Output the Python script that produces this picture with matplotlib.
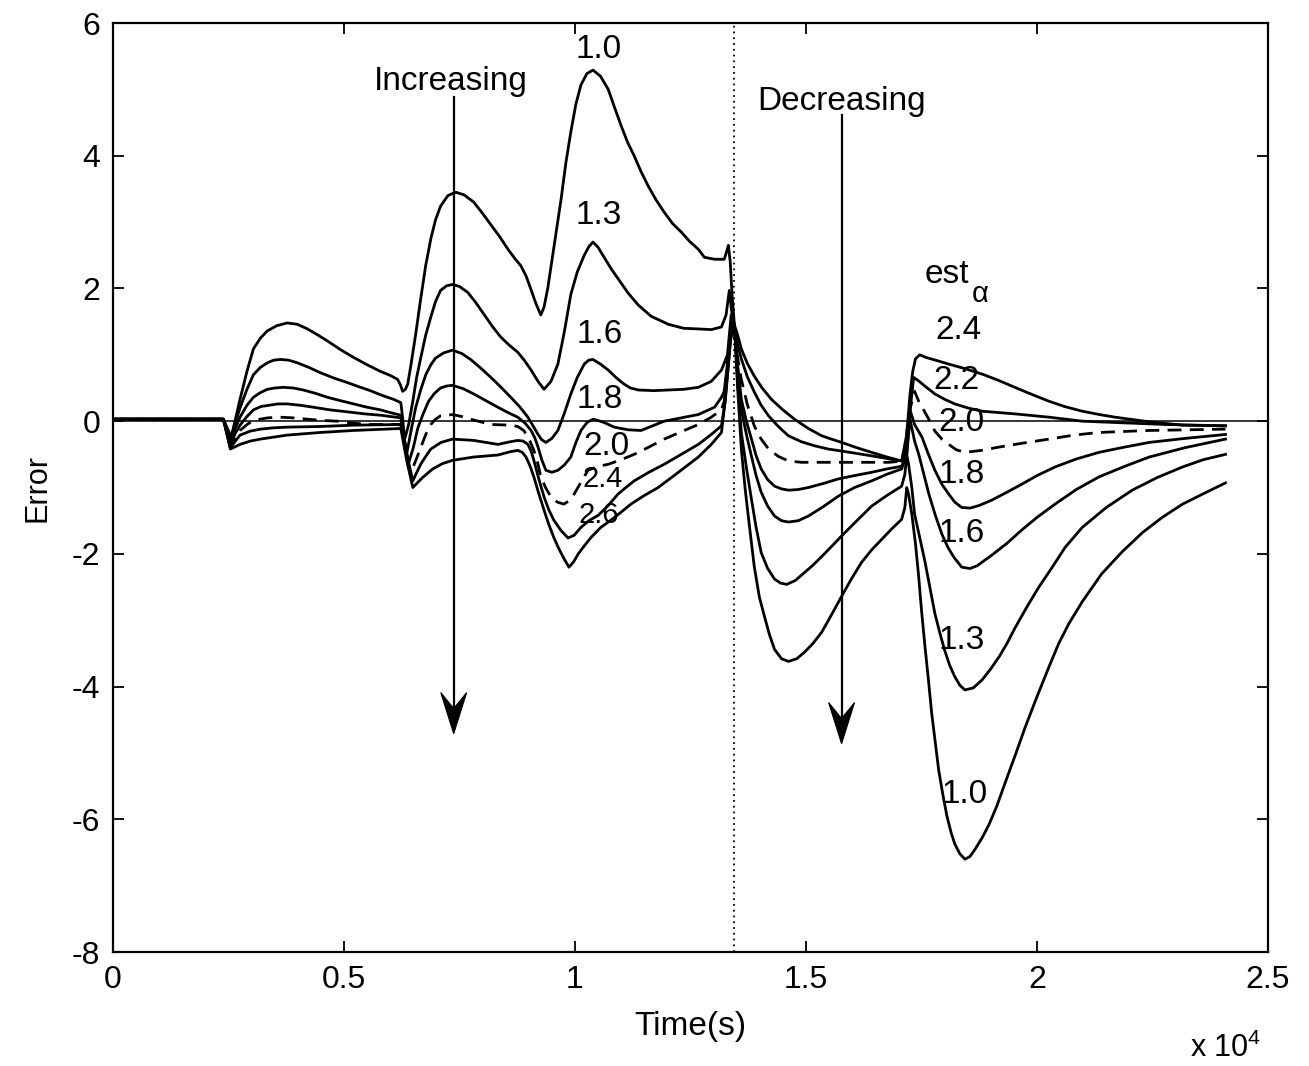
import matplotlib
matplotlib.use("Agg")
import matplotlib.pyplot as plt
from matplotlib.patches import Polygon
from matplotlib.ticker import FuncFormatter

plt.rcParams['font.family'] = ['Liberation Sans', 'DejaVu Sans']
plt.rcParams['mathtext.fontset'] = 'custom'
plt.rcParams['mathtext.rm'] = 'Liberation Sans'
plt.rcParams['axes.unicode_minus'] = False

# time in units of 1e4 s, error values for each est_alpha
t_10 = [0, 0.239, 0.256, 0.275, 0.290, 0.304, 0.319, 0.334, 0.355, 0.377, 0.399, 0.421, 0.443,
        0.464, 0.492, 0.521, 0.550, 0.579, 0.600, 0.616, 0.622, 0.627, 0.633, 0.638, 0.645, 0.655,
        0.666, 0.677, 0.688, 0.698, 0.709, 0.725, 0.742, 0.760, 0.781, 0.800, 0.818, 0.837, 0.855,
        0.870, 0.883, 0.894, 0.905, 0.915, 0.926, 0.933, 0.941, 0.955, 0.970, 0.980, 0.991, 1.002,
        1.013, 1.026, 1.039, 1.055, 1.072, 1.086, 1.100, 1.114, 1.128, 1.143, 1.158, 1.175, 1.193,
        1.211, 1.230, 1.248, 1.267, 1.280, 1.302, 1.323, 1.328, 1.332, 1.336, 1.340, 1.345, 1.352,
        1.360, 1.368, 1.375, 1.388, 1.399, 1.410, 1.421, 1.432, 1.447, 1.462, 1.480, 1.497, 1.515,
        1.534, 1.555, 1.577, 1.598, 1.620, 1.642, 1.664, 1.686, 1.707, 1.714, 1.718, 1.722, 1.729,
        1.737, 1.744, 1.750, 1.757, 1.765, 1.772, 1.780, 1.787, 1.796, 1.805, 1.814, 1.822, 1.833,
        1.844, 1.855, 1.866, 1.881, 1.896, 1.913, 1.931, 1.952, 1.974, 2.000, 2.026, 2.047, 2.069,
        2.098, 2.140, 2.184, 2.228, 2.271, 2.315, 2.358, 2.408]
e_10 = [0.03, 0.03, -0.24, 0.33, 0.75, 1.09, 1.25, 1.36, 1.44, 1.48, 1.46, 1.39, 1.30,
        1.21, 1.08, 0.96, 0.85, 0.75, 0.69, 0.63, 0.55, 0.45, 0.48, 0.56, 0.85, 1.3,
        1.84, 2.35, 2.75, 3.03, 3.24, 3.40, 3.45, 3.41, 3.30, 3.13, 2.96, 2.78, 2.59,
        2.45, 2.34, 2.19, 1.98, 1.78, 1.6, 1.72, 2.0, 2.65, 3.35, 3.88, 4.36, 4.78,
        5.07, 5.24, 5.29, 5.2, 5.0, 4.72, 4.45, 4.2, 4.0, 3.76, 3.55, 3.34, 3.15,
        2.98, 2.85, 2.71, 2.59, 2.47, 2.44, 2.44, 2.55, 2.65, 2.4, 1.9, 1.45, 0.5,
        -0.42, -1.0, -1.43, -2.19, -2.65, -2.94, -3.22, -3.44, -3.58, -3.62, -3.58, -3.48, -3.35,
        -3.18, -2.92, -2.64, -2.38, -2.13, -1.94, -1.78, -1.62, -1.48, -1.3, -1.0, -1.1, -1.4,
        -1.85, -2.35, -2.85, -3.36, -3.9, -4.4, -4.85, -5.25, -5.62, -5.95, -6.2, -6.37, -6.52,
        -6.6, -6.56, -6.45, -6.28, -6.08, -5.8, -5.45, -5.05, -4.62, -4.15, -3.7, -3.35, -3.05,
        -2.72, -2.3, -1.97, -1.68, -1.45, -1.25, -1.1, -0.93]

t_13 = [0, 0.239, 0.254, 0.265, 0.275, 0.290, 0.304, 0.319, 0.334, 0.348, 0.362, 0.380, 0.399,
        0.424, 0.449, 0.478, 0.508, 0.532, 0.557, 0.582, 0.607, 0.623, 0.627, 0.631, 0.640, 0.649,
        0.657, 0.666, 0.677, 0.688, 0.698, 0.709, 0.722, 0.735, 0.750, 0.768, 0.785, 0.803, 0.821,
        0.839, 0.857, 0.876, 0.890, 0.905, 0.920, 0.933, 0.948, 0.963, 0.977, 0.991, 1.005, 1.020,
        1.030, 1.039, 1.050, 1.063, 1.078, 1.093, 1.115, 1.137, 1.165, 1.202, 1.235, 1.267, 1.295,
        1.317, 1.327, 1.334, 1.340, 1.345, 1.352, 1.360, 1.371, 1.382, 1.392, 1.403, 1.417, 1.432,
        1.445, 1.458, 1.477, 1.497, 1.515, 1.534, 1.555, 1.577, 1.610, 1.642, 1.675, 1.707, 1.714,
        1.718, 1.722, 1.729, 1.735, 1.746, 1.757, 1.768, 1.779, 1.790, 1.800, 1.811, 1.822, 1.833,
        1.844, 1.862, 1.881, 1.900, 1.918, 1.935, 1.952, 1.978, 2.004, 2.033, 2.061, 2.098, 2.150,
        2.206, 2.260, 2.315, 2.360, 2.408]
e_13 = [0.03, 0.03, -0.28, -0.02, 0.2, 0.48, 0.7, 0.81, 0.88, 0.92, 0.93, 0.92, 0.88,
        0.81, 0.73, 0.65, 0.58, 0.52, 0.46, 0.39, 0.33, 0.28, 0.05, -0.28, -0.05, 0.3,
        0.65, 0.95, 1.3, 1.57, 1.80, 1.97, 2.04, 2.06, 2.03, 1.94, 1.79, 1.61, 1.43,
        1.27, 1.15, 1.04, 0.92, 0.77, 0.6, 0.48, 0.6, 0.86, 1.35, 1.91, 2.25, 2.5,
        2.63, 2.7, 2.62, 2.47, 2.3, 2.15, 1.93, 1.75, 1.58, 1.46, 1.40, 1.39, 1.38,
        1.42, 1.6, 1.97, 1.6, 1.45, 0.6, -0.17, -0.7, -1.18, -1.6, -1.98, -2.22, -2.38,
        -2.44, -2.46, -2.4, -2.28, -2.17, -2.04, -1.89, -1.73, -1.5, -1.28, -1.12, -0.98, -0.8,
        -0.5, -0.65, -1.0, -1.4, -1.75, -2.1, -2.5, -2.9, -3.2, -3.45, -3.68, -3.85, -3.98,
        -4.05, -4.02, -3.9, -3.73, -3.55, -3.35, -3.12, -2.8, -2.5, -2.2, -1.9, -1.6, -1.3,
        -1.04, -0.85, -0.69, -0.58, -0.5]

t_16 = [0, 0.239, 0.254, 0.265, 0.275, 0.290, 0.304, 0.319, 0.334, 0.350, 0.369, 0.390, 0.412,
        0.438, 0.464, 0.492, 0.521, 0.550, 0.579, 0.600, 0.623, 0.629, 0.636, 0.645, 0.655, 0.666,
        0.677, 0.688, 0.698, 0.716, 0.735, 0.755, 0.774, 0.796, 0.818, 0.840, 0.861, 0.880, 0.898,
        0.910, 0.920, 0.928, 0.937, 0.950, 0.963, 0.977, 0.991, 1.005, 1.020, 1.030, 1.039, 1.055,
        1.072, 1.090, 1.106, 1.120, 1.137, 1.170, 1.202, 1.235, 1.267, 1.295, 1.317, 1.330, 1.338,
        1.345, 1.352, 1.360, 1.371, 1.382, 1.392, 1.403, 1.417, 1.432, 1.447, 1.462, 1.483, 1.505,
        1.537, 1.570, 1.605, 1.642, 1.675, 1.707, 1.718, 1.725, 1.735, 1.744, 1.755, 1.766, 1.780,
        1.794, 1.807, 1.820, 1.837, 1.855, 1.870, 1.902, 1.935, 1.967, 2.000, 2.039, 2.085, 2.134,
        2.190, 2.243, 2.320, 2.408]
e_16 = [0.03, 0.03, -0.32, -0.1, 0.06, 0.24, 0.36, 0.43, 0.48, 0.50, 0.51, 0.50, 0.47,
        0.42, 0.36, 0.31, 0.26, 0.21, 0.17, 0.13, 0.09, -0.2, -0.48, -0.15, 0.2, 0.47,
        0.7, 0.85, 0.95, 1.03, 1.07, 1.02, 0.93, 0.80, 0.66, 0.51, 0.36, 0.22, 0.06,
        -0.08, -0.2, -0.28, -0.32, -0.26, -0.14, 0.12, 0.41, 0.66, 0.86, 0.92, 0.93, 0.86,
        0.77, 0.65, 0.56, 0.50, 0.47, 0.46, 0.47, 0.48, 0.51, 0.6, 0.77, 1.0, 1.6,
        1.45, 0.8, 0.18, -0.2, -0.53, -0.82, -1.07, -1.28, -1.43, -1.5, -1.52, -1.5, -1.43,
        -1.29, -1.13, -1.0, -0.9, -0.8, -0.72, -0.5, 0.03, -0.3, -0.5, -0.8, -1.1, -1.42,
        -1.7, -1.9, -2.05, -2.2, -2.22, -2.18, -2.02, -1.84, -1.64, -1.45, -1.25, -1.03, -0.84,
        -0.68, -0.54, -0.4, -0.27]

t_18 = [0, 0.239, 0.254, 0.265, 0.275, 0.290, 0.304, 0.320, 0.338, 0.357, 0.377, 0.405, 0.434,
        0.470, 0.508, 0.545, 0.579, 0.623, 0.631, 0.640, 0.650, 0.660, 0.672, 0.683, 0.696, 0.709,
        0.722, 0.735, 0.758, 0.781, 0.807, 0.833, 0.855, 0.876, 0.892, 0.905, 0.913, 0.920, 0.928,
        0.937, 0.950, 0.963, 0.977, 0.991, 1.002, 1.013, 1.026, 1.039, 1.050, 1.063, 1.085, 1.115,
        1.143, 1.168, 1.193, 1.230, 1.267, 1.302, 1.317, 1.323, 1.332, 1.340, 1.345, 1.352, 1.360,
        1.371, 1.382, 1.392, 1.403, 1.417, 1.432, 1.447, 1.462, 1.483, 1.505, 1.537, 1.570, 1.605,
        1.642, 1.675, 1.707, 1.718, 1.725, 1.735, 1.751, 1.765, 1.779, 1.794, 1.809, 1.822, 1.837,
        1.855, 1.875, 1.902, 1.935, 1.967, 2.000, 2.039, 2.085, 2.134, 2.190, 2.243, 2.320, 2.408]
e_18 = [0.03, 0.03, -0.35, -0.18, -0.06, 0.07, 0.17, 0.22, 0.24, 0.26, 0.26, 0.24, 0.21,
        0.17, 0.14, 0.11, 0.09, 0.05, -0.3, -0.63, -0.4, -0.1, 0.12, 0.3, 0.42, 0.5,
        0.53, 0.54, 0.49, 0.41, 0.31, 0.21, 0.13, 0.06, -0.03, -0.14, -0.25, -0.39, -0.58,
        -0.74, -0.77, -0.74, -0.66, -0.54, -0.32, -0.14, -0.02, 0.03, 0.01, -0.02, -0.09, -0.13,
        -0.14, -0.07, 0.0, 0.05, 0.1, 0.21, 0.36, 0.45, 1.0, 1.5, 1.45, 0.85, 0.33,
        0.0, -0.27, -0.52, -0.72, -0.88, -0.98, -1.02, -1.04, -1.03, -1.0, -0.94, -0.87, -0.82,
        -0.77, -0.72, -0.68, -0.5, 0.17, -0.05, -0.24, -0.5, -0.74, -0.95, -1.1, -1.22, -1.3,
        -1.31, -1.27, -1.19, -1.07, -0.95, -0.82, -0.69, -0.57, -0.47, -0.39, -0.32, -0.26, -0.2]

t_20 = [0, 0.239, 0.254, 0.265, 0.275, 0.292, 0.310, 0.335, 0.362, 0.390, 0.421, 0.455, 0.486,
        0.520, 0.557, 0.623, 0.633, 0.644, 0.655, 0.666, 0.677, 0.688, 0.698, 0.709, 0.735, 0.755,
        0.774, 0.796, 0.818, 0.861, 0.876, 0.889, 0.900, 0.911, 0.920, 0.926, 0.937, 0.948, 0.962,
        0.976, 0.987, 0.998, 1.013, 1.028, 1.050, 1.072, 1.100, 1.128, 1.160, 1.193, 1.230, 1.267,
        1.295, 1.317, 1.323, 1.334, 1.343, 1.350, 1.360, 1.373, 1.388, 1.403, 1.419, 1.440, 1.462,
        1.490, 1.518, 1.605, 1.679, 1.712, 1.722, 1.735, 1.744, 1.757, 1.768, 1.779, 1.794, 1.809,
        1.825, 1.844, 1.880, 1.918, 1.970, 2.026, 2.080, 2.134, 2.243, 2.408]
e_20 = [0.03, 0.03, -0.37, -0.25, -0.14, -0.04, 0.02, 0.05, 0.06, 0.05, 0.03, 0.01, 0.0,
        -0.03, -0.05, -0.05, -0.45, -0.78, -0.6, -0.4, -0.2, -0.05, 0.03, 0.08, 0.1, 0.07,
        0.03, -0.01, -0.05, -0.06, -0.08, -0.14, -0.26, -0.44, -0.65, -0.84, -1.01, -1.14, -1.22,
        -1.25, -1.2, -1.1, -0.92, -0.74, -0.68, -0.65, -0.58, -0.5, -0.39, -0.27, -0.16, -0.05,
        0.06, 0.17, 0.3, 1.2, 1.45, 1.05, 0.63, 0.25, -0.07, -0.27, -0.42, -0.53, -0.6,
        -0.62, -0.62, -0.62, -0.62, -0.6, 0.1, 0.45, 0.3, 0.14, 0.0, -0.15, -0.27, -0.35,
        -0.43, -0.47, -0.44, -0.39, -0.33, -0.27, -0.21, -0.17, -0.14, -0.12]

t_22 = [0, 0.239, 0.254, 0.265, 0.275, 0.297, 0.319, 0.348, 0.377, 0.449, 0.521, 0.623, 0.636,
        0.649, 0.657, 0.666, 0.677, 0.688, 0.710, 0.735, 0.781, 0.833, 0.860, 0.876, 0.888, 0.898,
        0.905, 0.911, 0.922, 0.933, 0.943, 0.954, 0.970, 0.985, 0.998, 1.013, 1.030, 1.050, 1.072,
        1.093, 1.110, 1.128, 1.160, 1.193, 1.230, 1.267, 1.295, 1.317, 1.325, 1.336, 1.343, 1.350,
        1.360, 1.373, 1.388, 1.403, 1.419, 1.440, 1.462, 1.490, 1.518, 1.548, 1.577, 1.640, 1.707,
        1.718, 1.729, 1.733, 1.745, 1.757, 1.768, 1.779, 1.800, 1.822, 1.850, 1.881, 1.952, 2.026,
        2.098, 2.169, 2.278, 2.408]
e_22 = [0.03, 0.03, -0.40, -0.3, -0.21, -0.15, -0.12, -0.1, -0.09, -0.08, -0.06, -0.05, -0.5,
        -0.9, -0.78, -0.65, -0.53, -0.42, -0.32, -0.27, -0.29, -0.35, -0.31, -0.29, -0.3, -0.35,
        -0.45, -0.59, -0.88, -1.14, -1.33, -1.49, -1.65, -1.76, -1.72, -1.6, -1.5, -1.42, -1.27,
        -1.1, -1.0, -0.9, -0.77, -0.65, -0.5, -0.35, -0.2, -0.07, 0.3, 1.2, 1.45, 1.22,
        0.94, 0.67, 0.44, 0.24, 0.08, -0.08, -0.22, -0.31, -0.37, -0.42, -0.45, -0.52, -0.6,
        -0.3, 0.4, 0.66, 0.6, 0.53, 0.47, 0.41, 0.33, 0.26, 0.2, 0.15, 0.11, 0.06,
        0.0, -0.02, -0.05, -0.07]

t_24 = [0, 0.239, 0.254, 0.275, 0.297, 0.319, 0.348, 0.377, 0.449, 0.521, 0.623, 0.636, 0.649,
        0.660, 0.670, 0.692, 0.713, 0.735, 0.781, 0.833, 0.860, 0.876, 0.886, 0.894, 0.903, 0.911,
        0.922, 0.933, 0.943, 0.954, 0.965, 0.976, 0.987, 0.997, 1.007, 1.020, 1.035, 1.056, 1.078,
        1.100, 1.121, 1.150, 1.180, 1.222, 1.267, 1.295, 1.317, 1.325, 1.338, 1.345, 1.352, 1.360,
        1.373, 1.388, 1.405, 1.425, 1.450, 1.475, 1.505, 1.534, 1.555, 1.577, 1.610, 1.642, 1.675,
        1.707, 1.718, 1.725, 1.731, 1.737, 1.746, 1.760, 1.780, 1.809, 1.845, 1.881, 1.915, 1.952,
        1.990, 2.026, 2.060, 2.098, 2.135, 2.169, 2.243, 2.315, 2.408]
e_24 = [0.03, 0.03, -0.42, -0.35, -0.3, -0.27, -0.24, -0.21, -0.17, -0.14, -0.11, -0.6, -1.0,
        -0.92, -0.85, -0.72, -0.64, -0.59, -0.54, -0.51, -0.46, -0.44, -0.47, -0.54, -0.68, -0.84,
        -1.1, -1.34, -1.55, -1.75, -1.92, -2.07, -2.2, -2.12, -2.0, -1.88, -1.75, -1.6, -1.49,
        -1.37, -1.25, -1.12, -1.0, -0.78, -0.54, -0.35, -0.17, 0.3, 1.3, 1.45, 1.3, 1.09,
        0.87, 0.68, 0.5, 0.33, 0.17, 0.03, -0.11, -0.22, -0.27, -0.32, -0.4, -0.47, -0.54,
        -0.6, -0.2, 0.4, 0.75, 0.94, 1.0, 0.96, 0.92, 0.86, 0.79, 0.71, 0.62, 0.51,
        0.4, 0.3, 0.22, 0.15, 0.1, 0.06, -0.01, -0.06, -0.07]

x_ticks = [0, 0.5, 1, 1.5, 2, 2.5]
y_ticks = [-8, -6, -4, -2, 0, 2, 4, 6]
t_switch = 1.345          # the input changes direction here (dotted line)

fig = plt.figure(figsize=(13.09, 10.66), dpi=100)
ax = fig.add_axes([0.0863, 0.1069, 0.8824, 0.8715])

lw = 2.0
ax.axhline(0, color='k', lw=1.1, zorder=1)
ax.axvline(t_switch, color='k', lw=1.3, ls=(0, (1, 2.2)), zorder=1)

ax.plot(t_10, e_10, 'k-', lw=lw)
ax.plot(t_13, e_13, 'k-', lw=lw)
ax.plot(t_16, e_16, 'k-', lw=lw)
ax.plot(t_18, e_18, 'k-', lw=lw)
ax.plot(t_20, e_20, 'k-', lw=lw, dashes=(5, 3))
ax.plot(t_22, e_22, 'k-', lw=lw)
ax.plot(t_24, e_24, 'k-', lw=lw)


def draw_arrow(x, y_top, y_tip):
    # shaft plus a notched arrowhead
    hw, hl, notch = 0.028, 0.62, 0.24
    ax.plot([x, x], [y_top, y_tip + hl - notch], 'k-', lw=1.6)
    head = Polygon([[x, y_tip], [x - hw, y_tip + hl], [x, y_tip + hl - notch],
                    [x + hw, y_tip + hl]], closed=True, fc='k', ec='k', lw=0.8)
    ax.add_patch(head)


draw_arrow(0.7375, 4.88, -4.71)
draw_arrow(1.577, 4.61, -4.86)

fs = 24
ax.text(0.731, 5.12, 'Increasing', fontsize=24, ha='center', va='center')
ax.text(1.577, 4.82, 'Decreasing', fontsize=24, ha='center', va='center')

left_labels = [('1.0', 1.052, 5.60, fs), ('1.3', 1.052, 3.10, fs), ('1.6', 1.054, 1.30, fs),
               ('1.8', 1.054, 0.32, fs), ('2.0', 1.068, -0.38, fs), ('2.4', 1.061, -0.87, 21),
               ('2.6', 1.052, -1.42, 21)]
right_labels = [('2.4', 1.831, 1.37, fs), ('2.2', 1.826, 0.62, fs), ('2.0', 1.837, -0.02, fs),
                ('1.8', 1.837, -0.81, fs), ('1.6', 1.837, -1.70, fs), ('1.3', 1.837, -3.30, fs),
                ('1.0', 1.844, -5.62, fs)]
for s, x, y, size in left_labels + right_labels:
    ax.text(x, y, s, fontsize=size, ha='center', va='center')
ax.text(1.805, 2.21, 'est', fontsize=fs, ha='center', va='center')
ax.text(1.876, 1.92, 'α', fontsize=21, ha='center', va='center')

ax.set_xlim(0, 2.5)
ax.set_ylim(-8, 6)
ax.set_xticks(x_ticks)
ax.set_yticks(y_ticks)
ax.xaxis.set_major_formatter(FuncFormatter(lambda v, p: f'{v:g}'))
ax.tick_params(direction='in', top=True, right=True, length=8, width=1.3,
               labelsize=23, pad=9)
for sp in ax.spines.values():
    sp.set_linewidth(1.6)

ax.set_xlabel('Time(s)', fontsize=24, labelpad=12)
ax.set_ylabel('Error', fontsize=22, labelpad=14)
fig.text(0.936, 0.017, 'x 10$^4$', fontsize=22, ha='center', va='center')

fig.savefig('out.png', dpi=100)
